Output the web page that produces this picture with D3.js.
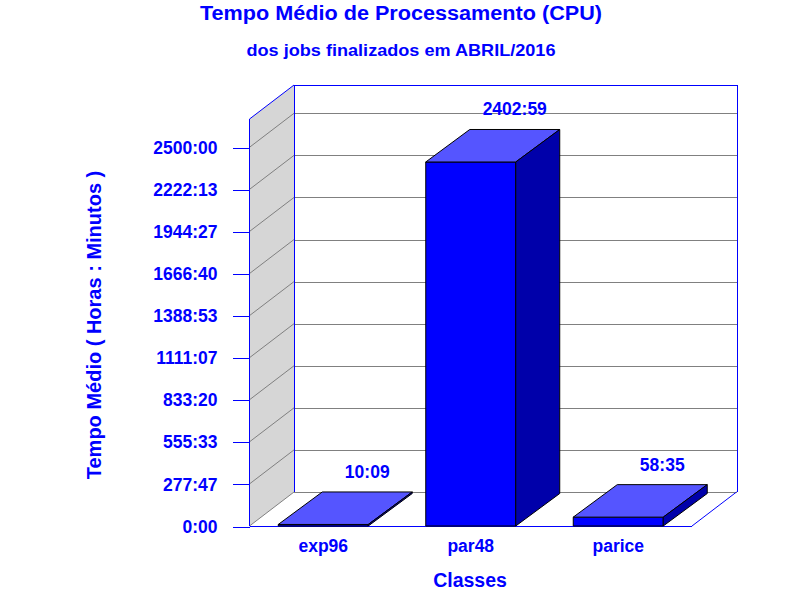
<!DOCTYPE html>
<html>
<head>
<meta charset="utf-8">
<script src="https://cdn.jsdelivr.net/npm/d3@7"></script>
<style>
  html, body { margin: 0; padding: 0; background: #ffffff; }
  svg { display: block; }
  text { font-family: "Liberation Sans", Arial, sans-serif; font-weight: bold; fill: #0000ff; }
</style>
</head>
<body>
<svg id="chart" width="800" height="600"></svg>
<script>
// ---------------- data ----------------
const categories = ["exp96", "par48", "parice"];
const cpuMinutes = [609, 144179, 3515];          // 10:09, 2402:59, 58:35 (h:mm)
const valueLabels = ["10:09", "2402:59", "58:35"];
const tickMinutes = [0, 16667, 33333, 50000, 66667, 83333, 100000, 116667, 133333, 150000];
const tickLabels = ["0:00", "277:47", "555:33", "833:20", "1111:07", "1388:53", "1666:40", "1944:27", "2222:13", "2500:00"];
const frameTopMinutes = 161200;

const titleText = "Tempo Médio de Processamento (CPU)";
const subtitleText = "dos jobs finalizados em ABRIL/2016";
const yTitleText = "Tempo Médio ( Horas : Minutos )";
const xTitleText = "Classes";

// ---------------- layout ----------------
const blue = "#0000ff";
const grid = "#808080";
const wallFill = "#d6d6d6";
const barFront = "#0000ff", barTop = "#5555ff", barSide = "#0000aa";
const left = 249.5, right = 692;
const base = 526;
const wall = { dx: 44.5, dy: -34 };
const bar = { dx: 44, dy: -32.5 };

const svg = d3.select("#chart");

const x = d3.scaleBand().domain(categories).range([left, right])
  .paddingInner(0.39).paddingOuter(0.195);
const y = d3.scaleLinear().domain([0, 150000]).range([base, 147.3]);

const yTop = y(frameTopMinutes);
const bx0 = left + wall.dx, bx1 = right + wall.dx;

// left wall (grey)
svg.append("polygon")
  .attr("points", [[left, yTop], [bx0, yTop + wall.dy], [bx0, base + wall.dy], [left, base]].map(p => p.join(",")).join(" "))
  .attr("fill", wallFill);

// gridlines: diagonal on left wall + horizontal on back wall
const g = svg.append("g");
tickMinutes.forEach(t => {
  const yy = y(t);
  g.append("line").attr("x1", left).attr("y1", yy).attr("x2", bx0).attr("y2", yy + wall.dy)
    .attr("stroke", grid).attr("stroke-width", 1);
  g.append("line").attr("x1", bx0).attr("y1", Math.round(yy + wall.dy) + 0.5).attr("x2", bx1).attr("y2", Math.round(yy + wall.dy) + 0.5)
    .attr("stroke", grid).attr("stroke-width", 1).attr("shape-rendering", "crispEdges");
});

// frame lines (blue)
const frame = svg.append("g").attr("stroke", blue).attr("stroke-width", 1).attr("fill", "none");
frame.append("line").attr("x1", left).attr("y1", yTop).attr("x2", bx0).attr("y2", yTop + wall.dy);
frame.append("line").attr("x1", bx0).attr("y1", Math.round(yTop + wall.dy) + 0.5).attr("x2", bx1).attr("y2", Math.round(yTop + wall.dy) + 0.5).attr("shape-rendering", "crispEdges");
frame.append("line").attr("x1", Math.round(bx0) + 0.5).attr("y1", yTop + wall.dy).attr("x2", Math.round(bx0) + 0.5).attr("y2", base + wall.dy).attr("shape-rendering", "crispEdges");
frame.append("line").attr("x1", Math.round(bx1) + 0.5).attr("y1", yTop + wall.dy).attr("x2", Math.round(bx1) + 0.5).attr("y2", base + wall.dy).attr("shape-rendering", "crispEdges");
frame.append("line").attr("x1", bx1).attr("y1", base + wall.dy).attr("x2", right).attr("y2", base);
frame.append("line").attr("x1", left).attr("y1", base + 0.5).attr("x2", right).attr("y2", base + 0.5).attr("shape-rendering", "crispEdges");
frame.append("line").attr("x1", left).attr("y1", yTop).attr("x2", left).attr("y2", base).attr("shape-rendering", "crispEdges");

// y axis
const yAxis = d3.axisLeft(y)
  .tickValues(tickMinutes)
  .tickFormat((d, i) => tickLabels[i])
  .tickSize(17)
  .tickPadding(15);
const ya = svg.append("g").attr("transform", `translate(${left},0.5)`).call(yAxis);
ya.select(".domain").remove();
ya.selectAll(".tick line").attr("stroke", blue).attr("shape-rendering", "crispEdges");
ya.selectAll(".tick text").attr("fill", blue).attr("font-size", 17.5)
  .attr("font-family", "'Liberation Sans', Arial, sans-serif").attr("font-weight", "bold");

// bars
const bw = x.bandwidth();
const bars = svg.append("g");
categories.forEach((c, i) => {
  const x0 = x(c), x1 = x0 + bw;
  const yt = y(cpuMinutes[i]);
  const pts = a => a.map(p => p.join(",")).join(" ");
  bars.append("polygon")
    .attr("points", pts([[x0, yt], [x1, yt], [x1, base], [x0, base]]))
    .attr("fill", barFront).attr("stroke", "#000").attr("stroke-width", 1).attr("stroke-linejoin", "miter");
  bars.append("polygon")
    .attr("points", pts([[x0, yt], [x0 + bar.dx, yt + bar.dy], [x1 + bar.dx, yt + bar.dy], [x1, yt]]))
    .attr("fill", barTop).attr("stroke", "#000").attr("stroke-width", 1);
  bars.append("polygon")
    .attr("points", pts([[x1, yt], [x1 + bar.dx, yt + bar.dy], [x1 + bar.dx, base + bar.dy], [x1, base]]))
    .attr("fill", barSide).attr("stroke", "#000").attr("stroke-width", 1);
  svg.append("text")
    .attr("x", x0 + bw / 2 + bar.dx)
    .attr("y", yt + bar.dy - 14)
    .attr("text-anchor", "middle")
    .attr("font-size", 17.5)
    .text(valueLabels[i]);
});

// x axis (category labels)
const xAxis = d3.axisBottom(x).tickSize(0).tickPadding(14);
const xa = svg.append("g").attr("transform", `translate(0,${base})`).call(xAxis);
xa.select(".domain").remove();
xa.selectAll(".tick text").attr("fill", blue).attr("font-size", 17.5)
  .attr("font-family", "'Liberation Sans', Arial, sans-serif").attr("font-weight", "bold");

// titles
svg.append("text").attr("x", 401).attr("y", 20).attr("text-anchor", "middle")
  .attr("font-size", 20).attr("textLength", 402).attr("lengthAdjust", "spacingAndGlyphs")
  .text(titleText);
svg.append("text").attr("x", 401).attr("y", 56).attr("text-anchor", "middle")
  .attr("font-size", 16.5).attr("textLength", 309).attr("lengthAdjust", "spacingAndGlyphs")
  .text(subtitleText);
svg.append("text").attr("transform", "translate(101,325) rotate(-90)").attr("text-anchor", "middle")
  .attr("font-size", 20).text(yTitleText);
svg.append("text").attr("x", 470).attr("y", 587).attr("text-anchor", "middle")
  .attr("font-size", 19.5).text(xTitleText);
</script>
</body>
</html>
